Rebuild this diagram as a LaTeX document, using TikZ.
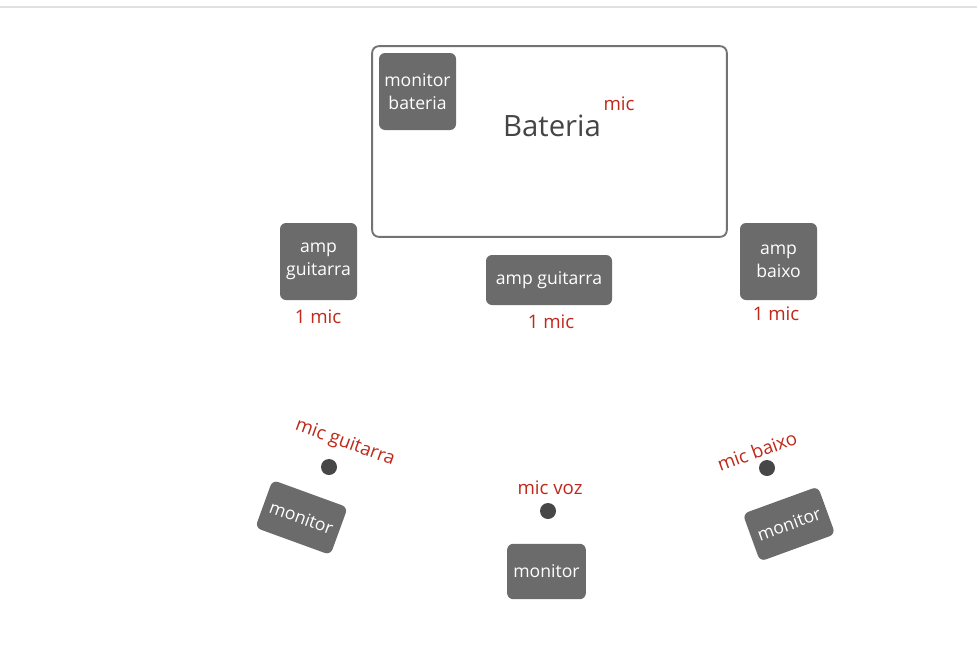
\documentclass[tikz,border=0pt]{standalone}
\usepackage{fontspec}
\setmainfont{Open Sans}
\definecolor{boxgray}{HTML}{6B6B6B}
\definecolor{micred}{HTML}{C0281A}
\definecolor{txtgray}{HTML}{454545}
\definecolor{dotgray}{HTML}{474747}
\tikzset{
  gbox/.style={fill=boxgray, rounded corners=4.5pt, text=white, align=center,
    font=\fontsize{13.2}{17}\selectfont, inner sep=0pt},
  redlbl/.style={text=micred, font=\fontsize{14}{16}\selectfont, inner sep=0pt},
  micdot/.style={circle, fill=dotgray, minimum size=12pt, inner sep=0pt},
}
\begin{document}
\begin{tikzpicture}[x=0.75pt,y=-0.75pt]
\useasboundingbox (0,0) rectangle (977,653);
\fill[white] (0,0) rectangle (977,653);
\coordinate (tl) at (0,7);
\coordinate (tr) at (977,7);
\draw[black!12, line width=0.8pt] (tl) -- (tr);
% drum area
\node[draw=black!55, line width=1.4pt, rounded corners=5pt, minimum width=266pt, minimum height=143pt, inner sep=0pt] (drums) at (549.5,141.5) {};
\node[gbox, minimum width=57.75pt, minimum height=57.75pt] (monbat) at (417.5,91.5) {monitor\\bateria};
\node[text=txtgray, font=\fontsize{22}{26}\selectfont, inner sep=0pt] (bat) at (552,126) {Bateria};
\node[redlbl] (micbat) at (619,104) {mic};
% amps
\node[gbox, minimum width=57.75pt, minimum height=57.75pt] (ampg1) at (318.5,261.5) {amp\\guitarra};
\node[redlbl] (m1) at (318,317) {1 mic};
\node[gbox, minimum width=94.5pt, minimum height=37.5pt] (ampg2) at (549,280) {amp guitarra};
\node[redlbl] (m2) at (551,322) {1 mic};
\node[gbox, minimum width=57.75pt, minimum height=57.75pt] (ampb) at (778.5,261.5) {amp\\baixo};
\node[redlbl] (m3) at (776,314) {1 mic};
% mics and monitors
\node[redlbl, rotate=-20] (micg) at (345,443) {mic guitarra};
\node[micdot] (dg) at (329,467) {};
\node[gbox, rotate=-20, minimum width=60pt, minimum height=38pt] (mong) at (301.5,517.5) {monitor};
\node[redlbl] (micv) at (550,488) {mic voz};
\node[micdot] (dv) at (548,511) {};
\node[gbox, minimum width=59pt, minimum height=41.5pt] (monv) at (546.5,571.5) {monitor};
\node[redlbl, rotate=20] (micb) at (757,451) {mic baixo};
\node[micdot] (db) at (767,468) {};
\node[gbox, rotate=20, minimum width=60pt, minimum height=38pt] (monb) at (789,524) {monitor};
\end{tikzpicture}
\end{document}
